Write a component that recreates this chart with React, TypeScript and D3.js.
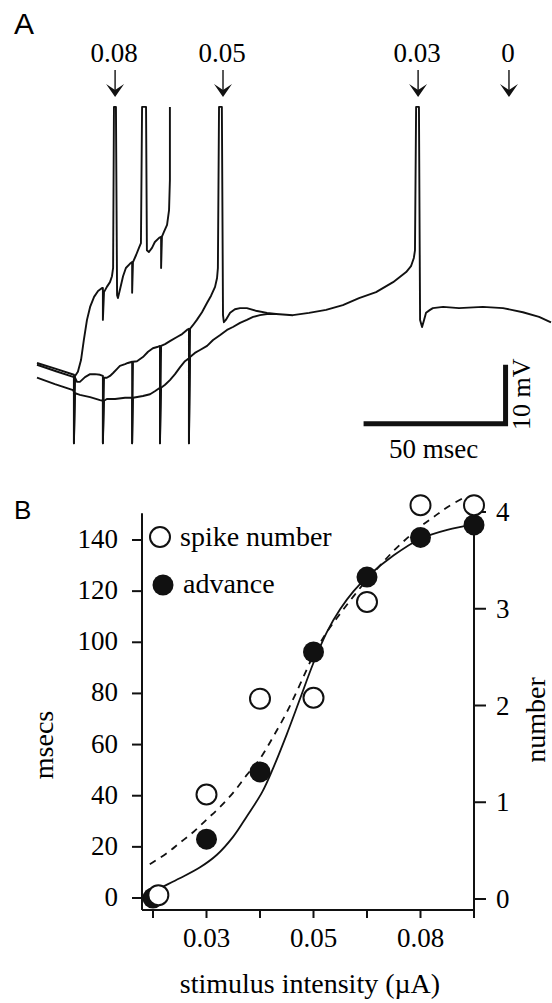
import React, { useEffect, useRef } from "react";
import * as d3 from "d3";

// ---- Panel A: membrane potential traces, [time (ms), potential (mV)] ----
const trace008 = [
  [0, -68.3], [6.7, -69.3], [13.0, -70.3], [13.0, -73.7], [13.4, -70.5], [14.4, -69.8],
  [15.5, -67.8], [16.5, -64.4], [17.6, -61.0], [18.7, -58.8], [20.1, -57.1], [21.5, -56.1],
  [22.9, -55.6], [23.2, -55.6], [23.2, -61.0], [23.6, -56.3], [24.6, -55.4], [25.7, -54.6],
  [26.4, -53.6], [26.8, -52.2], [27.1, -24.9], [27.8, -24.9], [28.2, -56.8], [28.5, -57.3],
  [29.2, -55.9], [30.3, -53.6], [31.3, -52.2], [32.7, -51.5], [33.5, -51.2], [33.5, -56.4],
  [33.8, -51.2], [34.9, -50.0], [35.9, -48.8], [36.6, -48.0], [37.0, -24.9], [38.4, -24.9],
  [38.7, -49.2], [39.4, -49.5], [40.5, -48.8], [41.5, -47.8], [43.0, -47.1], [43.7, -46.9],
  [43.7, -52.2], [44.0, -46.9], [44.7, -46.1], [45.8, -44.9], [46.5, -42.4], [46.8, -37.3],
  [46.8, -24.9],
];

const trace005 = [
  [0, -68.6], [6.7, -69.7], [13.0, -70.7], [13.0, -81.9], [13.4, -70.8], [14.1, -71.5],
  [15.1, -71.5], [16.9, -70.7], [18.7, -70.2], [20.4, -70.2], [22.2, -70.3], [23.2, -70.5],
  [23.2, -81.9], [23.6, -70.8], [24.6, -70.8], [25.7, -70.5], [26.8, -70.0], [28.2, -69.3],
  [29.2, -68.8], [31.0, -68.5], [32.0, -68.3], [33.5, -68.1], [33.5, -81.9], [33.8, -68.1],
  [35.2, -68.0], [37.3, -67.3], [39.1, -66.4], [40.8, -65.8], [42.3, -65.6], [43.3, -65.4],
  [43.3, -81.9], [43.7, -65.4], [45.1, -65.1], [46.8, -64.6], [49.3, -63.9], [51.1, -63.4],
  [52.8, -62.7], [53.5, -62.5], [53.5, -81.9], [53.9, -62.5], [54.9, -61.9], [56.3, -61.0],
  [58.1, -59.7], [59.9, -58.1], [61.3, -56.9], [62.7, -55.4], [63.4, -53.9], [63.7, -52.2],
  [64.1, -24.9], [65.1, -24.9], [65.5, -60.2], [65.8, -61.4], [66.5, -61.0], [68.0, -59.8],
  [69.7, -59.2], [71.5, -59.0], [73.9, -59.0], [77.5, -59.5], [81.0, -59.8], [84.2, -60.0],
];

const trace003 = [
  [0, -70.8], [6.3, -71.9], [12.7, -72.9], [13.0, -73.2], [13.0, -81.9], [13.4, -73.4],
  [15.1, -73.7], [18.7, -74.1], [22.2, -74.6], [23.2, -74.7], [23.2, -81.9], [23.6, -74.7],
  [24.6, -74.4], [27.5, -74.4], [31.0, -74.2], [33.5, -74.2], [33.5, -81.9], [33.8, -74.2],
  [37.3, -73.9], [39.8, -73.6], [41.5, -73.1], [43.3, -72.5], [43.3, -81.9], [43.7, -72.5],
  [45.1, -72.0], [46.8, -71.2], [48.6, -70.2], [50.4, -69.0], [52.1, -68.0], [53.5, -67.5],
  [53.5, -81.9], [53.9, -67.3], [55.6, -66.6], [57.4, -66.1], [59.9, -65.4], [62.0, -64.4],
  [64.4, -63.6], [66.9, -62.7], [69.0, -62.2], [71.5, -61.5], [73.9, -61.0], [76.1, -60.5],
  [78.5, -60.2], [81.0, -60.0], [84.2, -60.0], [90.1, -60.2], [95.8, -59.8], [101.8, -59.3],
  [107.7, -58.5], [113.4, -57.3], [119.4, -56.3], [125.4, -54.6], [130.0, -52.9], [131.7, -51.9],
  [132.7, -50.5], [133.1, -49.2], [133.5, -24.9], [134.5, -24.9], [134.9, -61.0], [135.6, -62.2],
  [136.3, -61.0], [137.0, -59.8], [138.4, -59.3], [139.4, -59.0], [143.0, -58.8], [148.6, -59.0],
  [157.0, -58.8], [164.1, -59.0], [171.1, -59.7], [176.8, -60.5], [181.0, -61.4],
];

const stimLabels = ["0.08", "0.05", "0.03", "0"];
const stimTimes = [27.5, 65.5, 134.2, 166.2];

const scaleBarMs = 50;
const scaleBarMv = 10;

// ---- Panel B: stimulus intensity steps ----
const stepIndex = [0, 1, 2, 3, 4, 5, 6];
const xTickLabels = ["", "0.03", "", "0.05", "", "0.08", ""];
const advance = [0, 23, 49.3, 96.2, 125.5, 141, 145.9];
const spikeX = [0.1, 1, 2, 3, 4, 5, 6];
const spikeNumber = [0.04, 1.08, 2.07, 2.08, 3.07, 4.07, 4.07];
const msecTicks = [0, 20, 40, 60, 80, 100, 120, 140];
const numberTicks = [0, 1, 2, 3, 4];

// fitted curves
const advanceFit = [
  [0, 2.5], [0.16, 4.2], [0.5, 7.7], [0.88, 12.0], [1.19, 16.8], [1.5, 24.0], [1.75, 31.8],
  [2.04, 41.4], [2.25, 51], [2.5, 64], [2.75, 78], [3.0, 92], [3.25, 104], [3.5, 113],
  [3.75, 120], [4.0, 125.5], [4.5, 134], [5.0, 140.5], [5.5, 144], [6.0, 146],
];
const spikeFit = [
  [-0.06, 0.36], [0.25, 0.47], [0.5, 0.58], [0.75, 0.69], [1.0, 0.82], [1.25, 0.95],
  [1.5, 1.1], [1.75, 1.28], [2.0, 1.45], [2.25, 1.68], [2.5, 1.93], [2.75, 2.22],
  [3.0, 2.52], [3.25, 2.76], [3.5, 2.95], [3.75, 3.13], [4.0, 3.3], [4.25, 3.45],
  [4.5, 3.6], [4.75, 3.73], [5.0, 3.85], [5.25, 3.95], [5.5, 4.05], [5.85, 4.16],
];

const SERIF = "'Liberation Serif', 'Times New Roman', serif";
const SANS = "'Liberation Sans', Arial, sans-serif";

const App = () => {
  const ref = useRef<SVGSVGElement>(null);

  useEffect(() => {
    const svg = d3.select(ref.current);
    svg.selectAll("*").remove();

    svg.append("rect").attr("width", 552).attr("height", 1003).attr("fill", "white");

    // ================= Panel A =================
    const xA = d3.scaleLinear().domain([0, 181]).range([37, 551]);
    const yA = d3.scaleLinear().domain([-80, -20]).range([432, 78]);

    svg.append("text").attr("x", 14).attr("y", 34)
      .style("font-family", SANS).style("font-size", "30px").text("A");

    const traceLine = d3.line<number[]>().x((d) => xA(d[0])).y((d) => yA(d[1]));
    [trace003, trace005, trace008].forEach((tr) => {
      svg.append("path").attr("d", traceLine(tr)!)
        .attr("fill", "none").attr("stroke", "#111").attr("stroke-width", 1.9)
        .attr("stroke-linejoin", "round");
    });

    // stimulus arrows
    stimTimes.forEach((t, i) => {
      const x = xA(t);
      svg.append("text").attr("x", x - 1).attr("y", 62).attr("text-anchor", "middle")
        .style("font-family", SERIF).style("font-size", "27px").text(stimLabels[i]);
      svg.append("line").attr("x1", x).attr("x2", x).attr("y1", 70).attr("y2", 94)
        .attr("stroke", "#111").attr("stroke-width", 1.4);
      svg.append("path")
        .attr("d", `M${x - 9},84 L${x},97 L${x + 9},84 L${x},90 Z`)
        .attr("fill", "#111");
    });

    // scale bars
    const barEnd = 165;
    const barV = -78.6;
    svg.append("path")
      .attr("d", `M${xA(barEnd - scaleBarMs)},${yA(barV)} H${xA(barEnd)} V${yA(barV + scaleBarMv)}`)
      .attr("fill", "none").attr("stroke", "#111").attr("stroke-width", 5)
      .attr("stroke-linejoin", "miter");
    svg.append("text").attr("x", xA(barEnd - scaleBarMs / 2) - 1).attr("y", 458)
      .attr("text-anchor", "middle").style("font-family", SERIF).style("font-size", "27px")
      .text("50 msec");
    svg.append("text")
      .attr("transform", `translate(${xA(barEnd) + 24},${yA(barV + scaleBarMv / 2)}) rotate(-90)`)
      .attr("text-anchor", "middle").style("font-family", SERIF).style("font-size", "26px")
      .text("10 mV");

    // ================= Panel B =================
    const xB = d3.scaleLinear().domain([0, 6]).range([153, 474]);
    const yL = d3.scaleLinear().domain([0, 140]).range([898, 540]);
    const yR = d3.scaleLinear().domain([0, 4]).range([899, 512]);
    const left = 142;
    const right = xB(6);
    const bottom = 910;

    svg.append("text").attr("x", 14).attr("y", 519)
      .style("font-family", SANS).style("font-size", "26px").text("B");

    const g = svg.append("g").attr("stroke", "#111").attr("stroke-width", 2);
    g.append("line").attr("x1", left).attr("x2", left).attr("y1", bottom).attr("y2", yL(150.5));
    g.append("line").attr("x1", left).attr("x2", right).attr("y1", bottom).attr("y2", bottom);
    g.append("line").attr("x1", right).attr("x2", right).attr("y1", bottom).attr("y2", yR(4));

    msecTicks.forEach((v) => {
      g.append("line").attr("x1", left - 10).attr("x2", left).attr("y1", yL(v)).attr("y2", yL(v));
      svg.append("text").attr("x", 118).attr("y", yL(v) + 8).attr("text-anchor", "end")
        .style("font-family", SERIF).style("font-size", "27px").text(v);
    });
    numberTicks.forEach((v) => {
      g.append("line").attr("x1", right).attr("x2", right + 12).attr("y1", yR(v)).attr("y2", yR(v));
      svg.append("text").attr("x", 496).attr("y", yR(v) + 9).attr("text-anchor", "start")
        .style("font-family", SERIF).style("font-size", "27px").text(v);
    });
    stepIndex.forEach((s, i) => {
      g.append("line").attr("x1", xB(s)).attr("x2", xB(s)).attr("y1", bottom).attr("y2", bottom + 8);
      if (xTickLabels[i])
        svg.append("text").attr("x", xB(s)).attr("y", 947).attr("text-anchor", "middle")
          .style("font-family", SERIF).style("font-size", "27px").text(xTickLabels[i]);
    });

    svg.append("text").attr("x", 310).attr("y", 993).attr("text-anchor", "middle")
      .style("font-family", SERIF).style("font-size", "28px").text("stimulus intensity (\u00B5A)");
    svg.append("text").attr("transform", "translate(53,745) rotate(-90)").attr("text-anchor", "middle")
      .style("font-family", SERIF).style("font-size", "28px").text("msecs");
    svg.append("text").attr("transform", "translate(545,720) rotate(-90)").attr("text-anchor", "middle")
      .style("font-family", SERIF).style("font-size", "28px").text("number");

    // fitted curves
    svg.append("path")
      .attr("d", d3.line<number[]>().x((d) => xB(d[0])).y((d) => yL(d[1])).curve(d3.curveCatmullRom)(advanceFit)!)
      .attr("fill", "none").attr("stroke", "#111").attr("stroke-width", 1.8);
    svg.append("path")
      .attr("d", d3.line<number[]>().x((d) => xB(d[0])).y((d) => yR(d[1])).curve(d3.curveCatmullRom)(spikeFit)!)
      .attr("fill", "none").attr("stroke", "#111").attr("stroke-width", 1.8)
      .attr("stroke-dasharray", "7,6");

    // markers
    advance.forEach((v, i) => {
      svg.append("circle").attr("cx", xB(stepIndex[i])).attr("cy", yL(v)).attr("r", 10.5).attr("fill", "#111");
    });
    spikeNumber.forEach((v, i) => {
      svg.append("circle").attr("cx", xB(spikeX[i])).attr("cy", yR(v)).attr("r", 10)
        .attr("fill", "white").attr("stroke", "#111").attr("stroke-width", 2);
    });

    // legend
    svg.append("circle").attr("cx", 160).attr("cy", 537).attr("r", 10)
      .attr("fill", "white").attr("stroke", "#111").attr("stroke-width", 2);
    svg.append("text").attr("x", 180).attr("y", 546)
      .style("font-family", SERIF).style("font-size", "28px").text("spike number");
    svg.append("circle").attr("cx", 163).attr("cy", 585).attr("r", 10.5).attr("fill", "#111");
    svg.append("text").attr("x", 183).attr("y", 593)
      .style("font-family", SERIF).style("font-size", "28px").text("advance");
  }, []);

  return (
    <svg ref={ref} width="552" height="1003"
      style={{ position: "absolute", left: 0, top: 0, display: "block" }} />
  );
};

export default App;
